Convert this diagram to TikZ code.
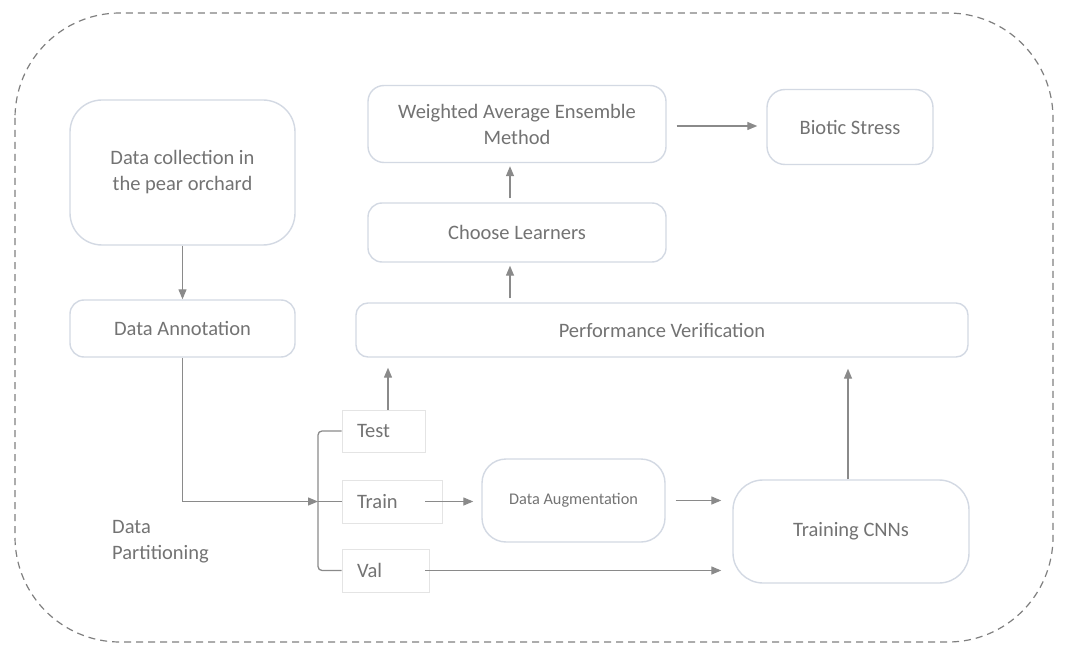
\documentclass[tikz,border=0pt]{standalone}
\usepackage{fontspec}
\setmainfont{Carlito}
\usetikzlibrary{arrows.meta,calc}
\definecolor{boxline}{HTML}{D3D9E3}
\definecolor{txt}{HTML}{737373}
\definecolor{conn}{HTML}{8A8A8A}
\definecolor{outerc}{HTML}{7F7F7F}
\definecolor{thinline}{HTML}{E4E4E4}
\begin{document}
\begin{tikzpicture}[x=1pt,y=-1pt,
  box/.style={draw=boxline, line width=1.4pt, fill=white, text=txt, inner sep=0pt,
    align=center, font=\fontsize{20.5}{26}\selectfont},
  part/.style={draw=thinline, line width=0.8pt, fill=white, text=txt, inner sep=0pt,
    align=left, font=\fontsize{20.5}{26}\selectfont},
  conline/.style={draw=conn, line width=1.3pt},
  arr/.style={conline, -{Triangle[length=10pt,width=8pt]}},
  lbl/.style={text=txt, inner sep=0pt, align=left, font=\fontsize{20.5}{26}\selectfont}
]
\useasboundingbox (0,0) rectangle (1065,655);
% outer dashed frame
\draw[outerc, line width=1.2pt, dash pattern=on 7pt off 5pt, rounded corners=105pt]
  (15,13) rectangle (1053,642);

% nodes
\node[box, minimum width=225, minimum height=145, rounded corners=32pt] (collect) at (182.5,172.5)
  {Data collection in\\the pear orchard};
\node[box, minimum width=225, minimum height=57, rounded corners=14pt] (annot) at (182.5,328.5)
  {Data Annotation};
\node[box, minimum width=298, minimum height=77, rounded corners=16pt] (wae) at (517,124)
  {Weighted Average Ensemble\\Method};
\node[box, minimum width=166, minimum height=75, rounded corners=18pt] (biotic) at (850,127)
  {Biotic Stress};
\node[box, minimum width=298, minimum height=59, rounded corners=14pt] (choose) at (517,232.5)
  {Choose Learners};
\node[box, minimum width=612, minimum height=54, rounded corners=12pt] (pv) at (662,330)
  {Performance Verification};
\node[part, text width=83, minimum height=42] (test) at (383.5,431)
  {\hspace*{15pt}Test};
\node[part, text width=100, minimum height=43] (train) at (392,501.5)
  {\hspace*{15pt}Train};
\node[part, text width=87, minimum height=43] (val) at (385.5,570.5)
  {\hspace*{15pt}Val};
\node[box, minimum width=183, minimum height=83, rounded corners=24pt,
  font=\fontsize{16.3}{20}\selectfont] (da) at (573.5,500.5) {Data Augmentation};
\node[box, minimum width=236, minimum height=103, rounded corners=30pt] (tc) at (851,531.5)
  {Training CNNs};
\node[lbl, anchor=west] (dp) at (112,542) {Data\\Partitioning};

% helper coordinates
\coordinate (split) at (318,501.5);
\coordinate (tup) at ([xshift=4.5pt]test.north);
\coordinate (tcup) at ([xshift=-3pt]tc.north);
\coordinate (chup) at ([xshift=-7pt]choose.north);
\coordinate (chdn) at ([xshift=-7pt]choose.south);
\coordinate (trout) at ([xshift=-17pt]train.east);
\coordinate (valout) at ([xshift=-4pt]val.east);

% connectors
\draw[arr] (collect.south) -- (annot.north);
\draw[arr] (annot.south) |- (split);
\draw[conline, rounded corners=4pt] (test.west) -| (split) |- (val.west);
\draw[conline] (split) -- (train.west);
\draw[arr, shorten >=10pt] (tup) -- (tup |- pv.south);
\draw[arr, shorten >=11pt] (tcup) -- (tcup |- pv.south);
\draw[arr, shorten <=4pt, shorten >=3pt] (chdn |- pv.north) -- (chdn);
\draw[arr, shorten <=4pt, shorten >=3pt] (chup) -- (chup |- wae.south);
\draw[arr, shorten <=10pt, shorten >=9pt] ([yshift=-2pt]wae.east) -- ([yshift=-2pt]wae.east -| biotic.west);
\draw[arr, shorten >=8pt] (trout) -- (trout -| da.west);
\draw[arr, shorten <=10pt, shorten >=11pt] (da.east) -- (da.east -| tc.west);
\draw[arr, shorten >=11pt] (valout) -- (valout -| tc.west);
\end{tikzpicture}
\end{document}
